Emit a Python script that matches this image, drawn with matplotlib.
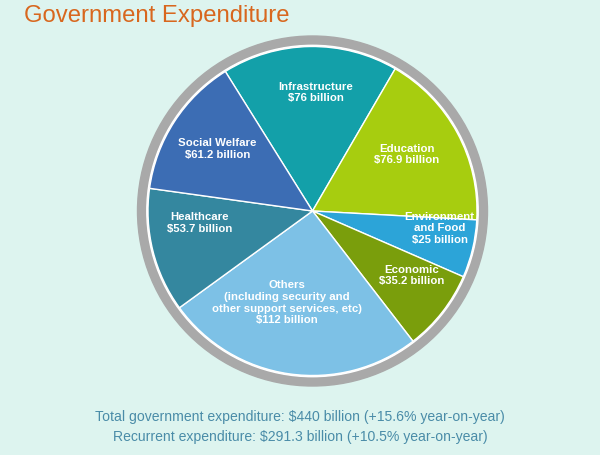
import matplotlib
matplotlib.use("Agg")
import matplotlib.pyplot as plt
from matplotlib.patches import Circle
import numpy as np

plt.rcParams['font.family'] = ['Liberation Sans', 'DejaVu Sans']

categories = ["Infrastructure", "Education", "Environment\nand Food", "Economic",
              "Others\n(including security and\nother support services, etc)",
              "Healthcare", "Social Welfare"]
values = [76, 76.9, 25, 35.2, 112, 53.7, 61.2]
value_labels = ["$76 billion", "$76.9 billion", "$25 billion", "$35.2 billion",
                "$112 billion", "$53.7 billion", "$61.2 billion"]
colors = ["#13A0A9", "#A7CD0F", "#2CA4D8", "#7A9E0C", "#7DC1E6", "#34879F", "#3C6DB4"]

title = "Government Expenditure"
footer = ["Total government expenditure: $440 billion (+15.6% year-on-year)",
          "Recurrent expenditure: $291.3 billion (+10.5% year-on-year)"]

W, H = 600, 455
fig = plt.figure(figsize=(6, 4.55), dpi=100)
bg = "#DDF4EF"
fig.patch.set_facecolor(bg)
ax = fig.add_axes([0, 0, 1, 1])

cx, cy = 312.5, H - 211
R = 164.5
ax.add_patch(Circle((cx, cy), 175, color="#A9A9A9", zorder=0))
ax.add_patch(Circle((cx, cy), R + 1.2, color="white", zorder=0.5))

wedges, _ = ax.pie(values, colors=colors, startangle=122, counterclock=False,
                   center=(cx, cy), radius=R, frame=True,
                   wedgeprops=dict(edgecolor="white", linewidth=1.0))
ax.set_xlim(0, W)
ax.set_ylim(0, H)
ax.set_aspect('equal')
ax.axis('off')

# label placement: radial fraction and angular nudge (deg) per wedge
label_r = [0.72, 0.67, 0.78, 0.72, 0.58, 0.69, 0.69]
label_dang = [-2.5, 2.5, 5.5, 5, -7.5, -8, 0]
for w, cat, vl, rf, da in zip(wedges, categories, value_labels, label_r, label_dang):
    mid = np.deg2rad((w.theta1 + w.theta2) / 2 + da)
    x = cx + rf * R * np.cos(mid)
    y = cy + rf * R * np.sin(mid)
    ax.text(x, y, cat + "\n" + vl, ha="center", va="center", color="white",
            fontsize=8.2, fontweight="bold", linespacing=1.2, zorder=5)

fig.text(24 / W, 1 - 16 / H, title, color="#D8671E", fontsize=17.2, ha="left", va="center")
fig.text(300 / W, 1 - 417 / H, footer[0], color="#4A8CA8", fontsize=10.1, ha="center", va="center")
fig.text(300 / W, 1 - 437 / H, footer[1], color="#4A8CA8", fontsize=10.1, ha="center", va="center")

fig.savefig("out.png", dpi=100, facecolor=bg)
